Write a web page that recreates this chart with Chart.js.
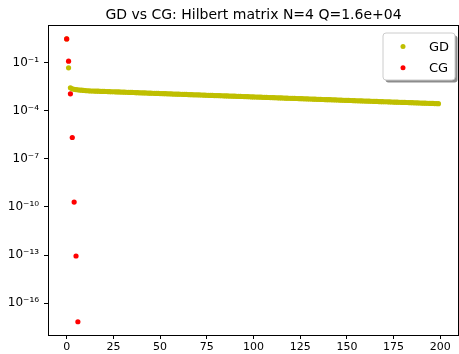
<!DOCTYPE html>
<html>
<head>
<meta charset="utf-8">
<script src="https://cdn.jsdelivr.net/npm/chart.js@4"></script>
<style>
  html, body { margin: 0; padding: 0; background: #fff; overflow: hidden; }
  #wrap { width: 459px; height: 354px; overflow: hidden; }
  canvas { display: block; }
</style>
</head>
<body>
<div id="wrap"><canvas id="chart" width="463" height="354"></canvas></div>
<script>
// residual norms per iteration
const TITLE = 'GD vs CG: Hilbert matrix N=4 Q=1.6e+04';
const SERIES_NAMES = ['GD', 'CG'];

const GD_RES = [
  2.9, 0.046, 2.6e-3, 2.25e-3, 2.1e-3, 2.02e-3, 1.95e-3, 1.9e-3, 1.86e-3, 1.8e-3, 1.76e-3,
  1.71e-3, 1.69e-3, 1.66e-3, 1.66e-3, 1.63e-3, 1.61e-3, 1.61e-3, 1.58e-3, 1.56e-3, 1.56e-3,
  1.54e-3, 1.53e-3, 1.51e-3, 1.49e-3, 1.49e-3, 1.46e-3, 1.45e-3, 1.44e-3, 1.41e-3, 1.41e-3,
  1.40e-3, 1.38e-3, 1.37e-3, 1.35e-3, 1.34e-3, 1.33e-3, 1.31e-3, 1.30e-3, 1.28e-3, 1.28e-3,
  1.26e-3, 1.25e-3, 1.24e-3, 1.22e-3, 1.22e-3, 1.20e-3, 1.19e-3, 1.17e-3, 1.17e-3, 1.15e-3,
  1.15e-3, 1.13e-3, 1.12e-3, 1.11e-3, 1.10e-3, 1.09e-3, 1.07e-3, 1.07e-3, 1.05e-3, 1.05e-3,
  1.04e-3, 1.03e-3, 1.01e-3, 1.01e-3, 9.9e-4, 9.8e-4, 9.8e-4, 9.6e-4, 9.5e-4, 9.5e-4,
  9.4e-4, 9.3e-4, 9.2e-4, 9.1e-4, 9.0e-4, 8.9e-4, 8.8e-4, 8.8e-4, 8.6e-4, 8.6e-4,
  8.55e-4, 8.45e-4, 8.4e-4, 8.3e-4, 8.2e-4, 8.15e-4, 8.0e-4, 8.0e-4, 7.9e-4, 7.85e-4,
  7.75e-4, 7.7e-4, 7.6e-4, 7.5e-4, 7.45e-4, 7.4e-4, 7.3e-4, 7.25e-4, 7.1e-4, 7.1e-4,
  7.0e-4, 6.95e-4, 6.9e-4, 6.8e-4, 6.7e-4, 6.7e-4, 6.6e-4, 6.5e-4, 6.45e-4, 6.4e-4,
  6.37e-4, 6.3e-4, 6.25e-4, 6.15e-4, 6.1e-4, 6.05e-4, 5.95e-4, 5.9e-4, 5.85e-4, 5.8e-4,
  5.77e-4, 5.7e-4, 5.65e-4, 5.6e-4, 5.5e-4, 5.5e-4, 5.4e-4, 5.35e-4, 5.3e-4, 5.25e-4,
  5.24e-4, 5.15e-4, 5.1e-4, 5.05e-4, 5.0e-4, 4.95e-4, 4.9e-4, 4.85e-4, 4.8e-4, 4.8e-4,
  4.75e-4, 4.7e-4, 4.65e-4, 4.6e-4, 4.55e-4, 4.5e-4, 4.45e-4, 4.4e-4, 4.35e-4, 4.32e-4,
  4.3e-4, 4.25e-4, 4.2e-4, 4.15e-4, 4.1e-4, 4.07e-4, 4.03e-4, 3.98e-4, 3.95e-4, 3.9e-4,
  3.9e-4, 3.85e-4, 3.8e-4, 3.77e-4, 3.72e-4, 3.7e-4, 3.65e-4, 3.6e-4, 3.58e-4, 3.55e-4,
  3.53e-4, 3.5e-4, 3.45e-4, 3.42e-4, 3.38e-4, 3.35e-4, 3.32e-4, 3.3e-4, 3.25e-4, 3.22e-4,
  3.21e-4, 3.17e-4, 3.14e-4, 3.12e-4, 3.08e-4, 3.05e-4, 3.02e-4, 3.0e-4, 2.97e-4, 2.94e-4,
  2.9e-4, 2.88e-4, 2.85e-4, 2.82e-4, 2.8e-4, 2.77e-4, 2.74e-4, 2.72e-4, 2.69e-4
];
const CG_RES = [2.9, 0.12, 1.1e-3, 2.1e-6, 2.0e-10, 8.7e-14, 7.0e-18];

const X_TICKS = [0, 25, 50, 75, 100, 125, 150, 175, 200];
const Y_TICK_EXPS = [-16, -13, -10, -7, -4, -1];

const SUP = { '-': '\u207B', '0': '\u2070', '1': '\u00B9', '2': '\u00B2', '3': '\u00B3',
  '4': '\u2074', '5': '\u2075', '6': '\u2076', '7': '\u2077', '8': '\u2078', '9': '\u2079' };
const supLabel = e => '10' + String(e).split('').map(c => SUP[c]).join('');

const FONT = 'DejaVu Sans';

// top spine, title and shadowed legend box like matplotlib
const decor = {
  id: 'decor',
  afterDraw(chart) {
    const { ctx, chartArea: a } = chart;
    ctx.save();
    ctx.strokeStyle = '#000';
    ctx.lineWidth = 1;
    ctx.beginPath();
    ctx.moveTo(a.left, a.top + 0.5);
    ctx.lineTo(a.right, a.top + 0.5);
    ctx.moveTo(a.right - 0.5, a.top);
    ctx.lineTo(a.right - 0.5, a.bottom);
    ctx.stroke();

    ctx.fillStyle = '#000';
    ctx.font = '14px "' + FONT + '"';
    ctx.textAlign = 'center';
    ctx.textBaseline = 'alphabetic';
    ctx.fillText(TITLE, (a.left + a.right) / 2, 19);

    // legend
    const bx = 383, by = 33, bw = 72, bh = 47;
    ctx.fillStyle = 'rgba(0,0,0,0.45)';
    roundRect(ctx, bx + 2.5, by + 2.5, bw, bh, 3);
    ctx.fill();
    ctx.fillStyle = '#fff';
    roundRect(ctx, bx, by, bw, bh, 3);
    ctx.fill();
    ctx.strokeStyle = '#cccccc';
    ctx.stroke();
    ctx.font = '13px "' + FONT + '"';
    ctx.textAlign = 'left';
    ctx.textBaseline = 'middle';
    chart.data.datasets.forEach((ds, i) => {
      const cy = by + 13.5 + i * 21.2;
      ctx.fillStyle = ds.backgroundColor;
      ctx.beginPath();
      ctx.arc(bx + 20, cy, 2.5, 0, Math.PI * 2);
      ctx.fill();
      ctx.fillStyle = '#000';
      ctx.fillText(ds.label, bx + 46, cy + 1);
    });
    ctx.restore();
  }
};

function roundRect(ctx, x, y, w, h, r) {
  ctx.beginPath();
  ctx.moveTo(x + r, y);
  ctx.lineTo(x + w - r, y);
  ctx.quadraticCurveTo(x + w, y, x + w, y + r);
  ctx.lineTo(x + w, y + h - r);
  ctx.quadraticCurveTo(x + w, y + h, x + w - r, y + h);
  ctx.lineTo(x + r, y + h);
  ctx.quadraticCurveTo(x, y + h, x, y + h - r);
  ctx.lineTo(x, y + r);
  ctx.quadraticCurveTo(x, y, x + r, y);
  ctx.closePath();
}

new Chart(document.getElementById('chart'), {
  type: 'scatter',
  data: {
    datasets: [
      {
        label: SERIES_NAMES[0],
        data: GD_RES.map((v, i) => ({ x: i, y: v })),
        backgroundColor: '#bfbf00',
        borderWidth: 0,
        pointRadius: 2.6,
        order: 2
      },
      {
        label: SERIES_NAMES[1],
        data: CG_RES.map((v, i) => ({ x: i, y: v })),
        backgroundColor: '#ff0000',
        borderWidth: 0,
        pointRadius: 2.6,
        order: 1
      }
    ]
  },
  options: {
    responsive: false,
    animation: false,
    devicePixelRatio: 1,
    layout: { padding: { top: 25, right: 1, left: 0, bottom: 0 } },
    plugins: { legend: { display: false }, tooltip: { enabled: false } },
    scales: {
      x: {
        type: 'linear',
        min: -10,
        max: 210,
        afterBuildTicks: s => { s.ticks = X_TICKS.map(v => ({ value: v })); },
        afterFit: s => { s.height = 19; },
        grid: { display: true, drawOnChartArea: false, drawTicks: true, tickLength: 4, color: '#000' },
        border: { display: true, color: '#000', width: 1 },
        ticks: { color: '#000', padding: 2, maxRotation: 0, font: { family: FONT, size: 11 } }
      },
      y: {
        type: 'logarithmic',
        min: Math.pow(10, -17.98),
        max: Math.pow(10, 1.33),
        afterBuildTicks: s => { s.ticks = Y_TICK_EXPS.map(e => ({ value: Math.pow(10, e) })); },
        afterFit: s => { s.width = 48; },
        grid: { display: true, drawOnChartArea: false, drawTicks: true, tickLength: 4, color: '#000' },
        border: { display: true, color: '#000', width: 1 },
        ticks: {
          color: '#000',
          padding: 5,
          font: { family: FONT, size: 12 },
          callback: v => supLabel(Math.round(Math.log10(v)))
        }
      }
    }
  },
  plugins: [decor]
});
</script>
</body>
</html>
